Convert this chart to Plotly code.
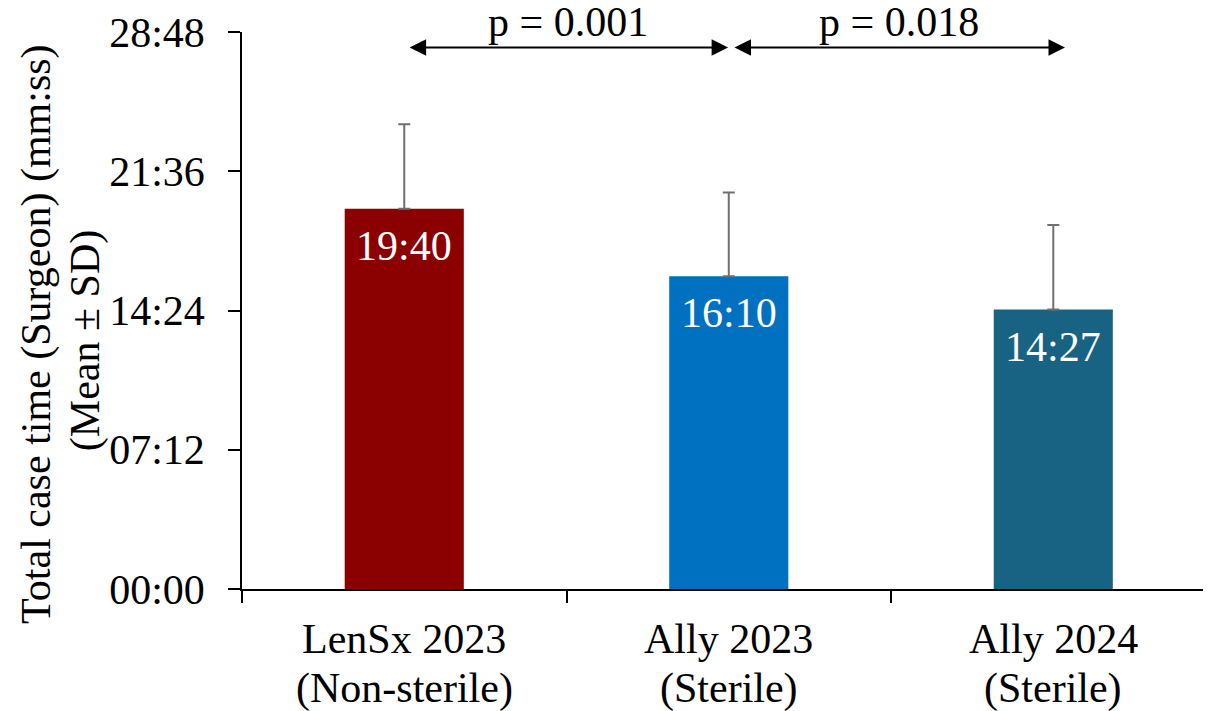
import plotly.graph_objects as go

# ---- data ----
cat_line1 = ["LenSx 2023", "Ally 2023", "Ally 2024"]
cat_line2 = ["(Non-sterile)", "(Sterile)", "(Sterile)"]
mean_sec = [1180, 970, 867]          # 19:40, 16:10, 14:27
sd_sec = [262, 260, 262]
bar_colors = ["#8B0000", "#0070C0", "#186283"]
y_tick_sec = [0, 432, 864, 1296, 1728]
comparisons = [(0, 1, "p = 0.001"), (1, 2, "p = 0.018")]
y_title_lines = ["Total case time (Surgeon) (mm:ss)", "(Mean \u00b1 SD)"]


def mmss(s):
    s = int(round(s))
    return f"{s // 60:02d}:{s % 60:02d}"


FONT = "Times New Roman, Liberation Serif, Tinos, serif"
FS = 42

fig = go.Figure()
fig.add_trace(go.Bar(
    x=cat_line1,
    y=mean_sec,
    width=0.367,
    marker=dict(color=bar_colors, line=dict(width=0)),
    error_y=dict(type="data", symmetric=False, array=sd_sec,
                 arrayminus=[0] * len(sd_sec),
                 color="#707070", thickness=2, width=6),
    showlegend=False,
    hoverinfo="skip",
))

annotations = []
# bar value labels
for i, m in enumerate(mean_sec):
    annotations.append(dict(
        x=i, y=m, xref="x", yref="y", text=mmss(m),
        showarrow=False, yanchor="middle", yshift=-37,
        font=dict(family=FONT, size=FS, color="white")))

# category labels (two lines each)
for i in range(len(cat_line1)):
    annotations.append(dict(
        x=i, y=0, xref="x", yref="paper", text=cat_line1[i], showarrow=False,
        yanchor="middle", yshift=-50, font=dict(family=FONT, size=FS, color="black")))
    annotations.append(dict(
        x=i, y=0, xref="x", yref="paper", text=cat_line2[i], showarrow=False,
        yanchor="middle", yshift=-99, font=dict(family=FONT, size=FS, color="black")))

# y axis title (two lines)
annotations.append(dict(
    x=0, y=0.458, xref="paper", yref="paper", text=y_title_lines[0], showarrow=False,
    textangle=-90, xanchor="center", yanchor="middle", xshift=-205,
    font=dict(family=FONT, size=FS, color="black")))
annotations.append(dict(
    x=0, y=0.445, xref="paper", yref="paper", text=y_title_lines[1], showarrow=False,
    textangle=-90, xanchor="center", yanchor="middle", xshift=-157,
    font=dict(family=FONT, size=FS, color="black")))

# significance arrows
arrow_y = 1680
off_l = [0.012, 0.013]
off_r = [-0.002, 0.036]
for k, (a, b, txt) in enumerate(comparisons):
    x0 = a + off_l[k]
    x1 = b + off_r[k]
    annotations.append(dict(
        x=x1, y=arrow_y, ax=x0, ay=arrow_y, xref="x", yref="y",
        axref="x", ayref="y", text="", showarrow=True,
        arrowhead=2, startarrowhead=2, arrowside="end+start",
        arrowsize=1.65, startarrowsize=1.65, arrowwidth=2, arrowcolor="black"))
    annotations.append(dict(
        x=(x0 + x1) / 2, y=arrow_y, xref="x", yref="y", text=txt, showarrow=False,
        yanchor="middle", yshift=25, font=dict(family=FONT, size=FS, color="black")))

fig.update_layout(
    width=1203, height=703,
    margin=dict(l=234, r=0, t=24, b=122),
    plot_bgcolor="white", paper_bgcolor="white",
    font=dict(family=FONT, size=FS, color="black"),
    annotations=annotations,
    xaxis=dict(
        type="category", range=[-0.5, 2.486],
        showline=True, linecolor="black", linewidth=1.5,
        ticks="outside", tickson="boundaries", ticklen=12, tickwidth=1.5,
        tickcolor="black", showticklabels=False, showgrid=False, zeroline=False,
    ),
    yaxis=dict(
        range=[0, 1728], tickvals=y_tick_sec, ticktext=[mmss(v) for v in y_tick_sec],
        showline=True, linecolor="black", linewidth=1.5,
        ticks="outside", ticklen=12, tickwidth=1.5, tickcolor="black",
        ticklabelstandoff=15,
        tickfont=dict(family=FONT, size=FS, color="black"),
        showgrid=False, zeroline=False,
    ),
)

fig.write_html("out.html")
